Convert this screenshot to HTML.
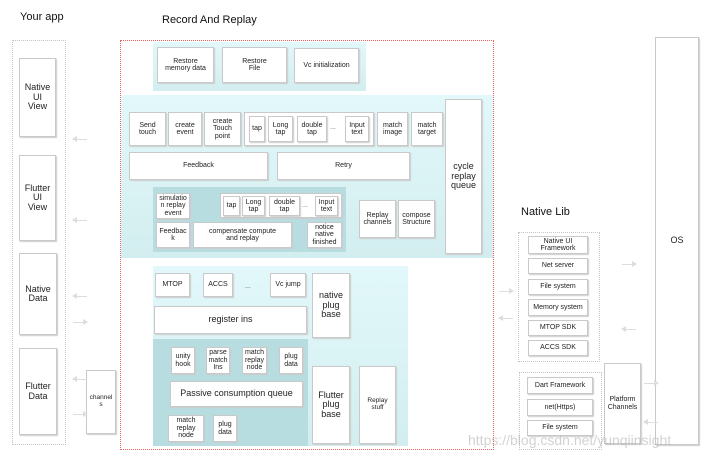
<!DOCTYPE html>
<html><head><meta charset="utf-8">
<style>
*{margin:0;padding:0;box-sizing:border-box}
body{width:708px;height:463px;background:#fff;position:relative;overflow:hidden;font-family:"Liberation Sans",Arial,sans-serif;color:#222}
.a{position:absolute}
.b{position:absolute;background:#fff;border:1px solid #c9c9c9;box-shadow:1px 1px 1px #ccc;display:flex;align-items:center;justify-content:center;text-align:center;font-size:7px;line-height:1.05}
.t{position:absolute;font-size:11px;color:#111}
.dash{position:absolute;border:1px dotted #c4c4c4}
.panel{position:absolute;background:linear-gradient(#e2f8fa,#d3eef0)}
.dark{position:absolute;background:#b8dde1}
.arr{position:absolute;height:1px;background:#ddd;width:14px}
.arr.l:before{content:"";position:absolute;left:-1px;top:-3px;border:3px solid transparent;border-right:5px solid #ddd;border-left:0}
.arr.r:after{content:"";position:absolute;right:-1px;top:-3px;border:3px solid transparent;border-left:5px solid #ddd;border-right:0}
</style></head><body>

<div class="t" style="left:20px;top:11px">Your app</div>
<div class="t" style="left:162px;top:14px">Record And Replay</div>
<div class="t" style="left:521px;top:206px">Native Lib</div>

<!-- Your app -->
<div class="dash" style="left:12px;top:40px;width:54px;height:405px"></div>
<div class="b" style="left:19px;top:58px;width:37px;height:79px;font-size:9px">Native<br>UI<br>View</div>
<div class="b" style="left:19px;top:155px;width:37px;height:86px;font-size:9px">Flutter<br>UI<br>View</div>
<div class="b" style="left:19px;top:253px;width:38px;height:82px;font-size:9px">Native<br>Data</div>
<div class="b" style="left:19px;top:348px;width:38px;height:87px;font-size:9px">Flutter<br>Data</div>
<div class="b" style="left:86px;top:370px;width:30px;height:64px;font-size:6.5px">channel<br>s</div>
<div class="arr l" style="left:73px;top:139px"></div>
<div class="arr l" style="left:73px;top:220px"></div>
<div class="arr l" style="left:73px;top:296px"></div>
<div class="arr r" style="left:73px;top:322px"></div>
<div class="arr l" style="left:73px;top:379px"></div>
<div class="arr r" style="left:73px;top:414px"></div>

<!-- Record & Replay -->
<div class="a" style="left:120px;top:40px;width:374px;height:410px;border:1px dotted #f06060"></div>
<div class="panel" style="left:153px;top:42px;width:213px;height:49px"></div>
<div class="b" style="left:157px;top:47px;width:57px;height:36px">Restore<br>memory data</div>
<div class="b" style="left:222px;top:47px;width:65px;height:36px">Restore<br>File</div>
<div class="b" style="left:294px;top:48px;width:65px;height:35px">Vc initialization</div>

<div class="panel" style="left:121px;top:95px;width:372px;height:163px"></div>
<div class="b" style="left:129px;top:112px;width:37px;height:34px">Send<br>touch</div>
<div class="b" style="left:168px;top:112px;width:34px;height:34px">create<br>event</div>
<div class="b" style="left:204px;top:112px;width:37px;height:34px">create<br>Touch<br>point</div>
<div class="b" style="left:244px;top:112px;width:130px;height:34px"></div>
<div class="b" style="left:249px;top:116px;width:16px;height:26px">tap</div>
<div class="b" style="left:268px;top:116px;width:25px;height:26px">Long<br>tap</div>
<div class="b" style="left:297px;top:116px;width:30px;height:26px">double<br>tap</div>
<div class="a" style="left:330px;top:124px;font-size:7px;color:#666">...</div>
<div class="b" style="left:345px;top:116px;width:24px;height:26px">Input<br>text</div>
<div class="b" style="left:377px;top:112px;width:31px;height:34px">match<br>image</div>
<div class="b" style="left:411px;top:112px;width:32px;height:34px">match<br>target</div>
<div class="b" style="left:445px;top:99px;width:37px;height:155px;font-size:9px">cycle<br>replay<br>queue</div>
<div class="b" style="left:129px;top:152px;width:139px;height:28px">Feedback</div>
<div class="b" style="left:277px;top:152px;width:133px;height:28px">Retry</div>

<div class="dark" style="left:153px;top:187px;width:193px;height:65px"></div>
<div class="b" style="left:156px;top:193px;width:34px;height:26px">simulatio<br>n replay<br>event</div>
<div class="b" style="left:220px;top:193px;width:122px;height:25px"></div>
<div class="b" style="left:223px;top:196px;width:17px;height:20px">tap</div>
<div class="b" style="left:242px;top:196px;width:23px;height:20px">Long<br>tap</div>
<div class="b" style="left:269px;top:196px;width:31px;height:20px">double<br>tap</div>
<div class="a" style="left:302px;top:202px;font-size:7px;color:#666">...</div>
<div class="b" style="left:315px;top:196px;width:23px;height:20px">Input<br>text</div>
<div class="b" style="left:156px;top:222px;width:34px;height:26px">Feedbac<br>k</div>
<div class="b" style="left:193px;top:222px;width:99px;height:26px">compensate compute<br>and replay</div>
<div class="b" style="left:307px;top:222px;width:35px;height:26px">notice<br>native<br>finished</div>
<div class="b" style="left:359px;top:200px;width:37px;height:38px">Replay<br>channels</div>
<div class="b" style="left:398px;top:200px;width:37px;height:38px">compose<br>Structure</div>

<div class="panel" style="left:153px;top:266px;width:255px;height:180px"></div>
<div class="b" style="left:155px;top:273px;width:35px;height:24px">MTOP</div>
<div class="b" style="left:203px;top:273px;width:30px;height:24px">ACCS</div>
<div class="a" style="left:245px;top:283px;font-size:7px;color:#555">...</div>
<div class="b" style="left:270px;top:273px;width:36px;height:24px">Vc jump</div>
<div class="b" style="left:154px;top:306px;width:153px;height:28px;font-size:9px">register ins</div>
<div class="b" style="left:312px;top:273px;width:38px;height:65px;font-size:9px">native<br>plug<br>base</div>
<div class="dark" style="left:153px;top:339px;width:155px;height:107px"></div>
<div class="b" style="left:171px;top:347px;width:24px;height:27px">unity<br>hook</div>
<div class="b" style="left:206px;top:347px;width:24px;height:27px">parse<br>match<br>Ins</div>
<div class="b" style="left:242px;top:347px;width:25px;height:27px">match<br>replay<br>node</div>
<div class="b" style="left:279px;top:347px;width:24px;height:27px">plug<br>data</div>
<div class="b" style="left:170px;top:381px;width:133px;height:26px;font-size:9px">Passive consumption queue</div>
<div class="b" style="left:168px;top:415px;width:36px;height:27px">match<br>replay<br>node</div>
<div class="b" style="left:213px;top:415px;width:24px;height:27px">plug<br>data</div>
<div class="b" style="left:312px;top:366px;width:38px;height:78px;font-size:9px">Flutter<br>plug<br>base</div>
<div class="b" style="left:359px;top:366px;width:37px;height:78px;font-size:6.5px">Replay<br>stuff</div>

<!-- Native Lib -->
<div class="dash" style="left:518px;top:232px;width:82px;height:130px"></div>
<div class="b" style="left:528px;top:236px;width:60px;height:18px">Native UI<br>Framework</div>
<div class="b" style="left:528px;top:258px;width:60px;height:16px">Net server</div>
<div class="b" style="left:528px;top:279px;width:60px;height:16px">File system</div>
<div class="b" style="left:528px;top:299px;width:60px;height:17px">Memory system</div>
<div class="b" style="left:528px;top:320px;width:60px;height:16px">MTOP SDK</div>
<div class="b" style="left:528px;top:340px;width:60px;height:16px">ACCS SDK</div>
<div class="dash" style="left:519px;top:372px;width:83px;height:78px"></div>
<div class="b" style="left:527px;top:377px;width:66px;height:17px">Dart Framework</div>
<div class="b" style="left:527px;top:399px;width:66px;height:17px">net(Https)</div>
<div class="b" style="left:527px;top:420px;width:66px;height:16px">File system</div>
<div class="b" style="left:604px;top:363px;width:37px;height:81px">Platform<br>Channels</div>
<div class="b" style="left:655px;top:37px;width:44px;height:408px;font-size:9px">OS</div>

<div class="arr r" style="left:499px;top:291px"></div>
<div class="arr l" style="left:499px;top:318px"></div>
<div class="arr r" style="left:622px;top:264px"></div>
<div class="arr l" style="left:622px;top:329px"></div>
<div class="arr r" style="left:644px;top:383px"></div>
<div class="arr l" style="left:644px;top:422px"></div>

<div class="a" style="left:468px;top:432px;font-size:14px;color:rgba(180,180,180,0.6)">https://blog.csdn.net/yunqiinsight</div>
</body></html>
